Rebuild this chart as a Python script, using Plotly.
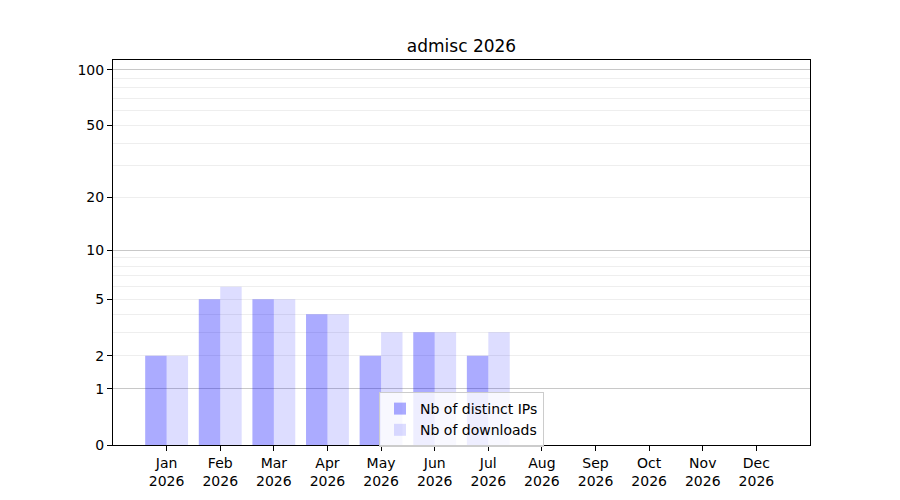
import numpy as np
import plotly.graph_objects as go

months = ["Jan", "Feb", "Mar", "Apr", "May", "Jun", "Jul", "Aug", "Sep", "Oct", "Nov", "Dec"]
year = "2026"
distinct_ips = [2, 5, 5, 4, 2, 3, 2, 0, 0, 0, 0, 0]
downloads = [2, 6, 5, 4, 3, 3, 3, 0, 0, 0, 0, 0]
tick_values = [0, 1, 2, 5, 10, 20, 50, 100]
major_grid = [1, 10, 100]
minor_grid = [2, 3, 4, 5, 6, 7, 8, 9, 20, 30, 40, 50, 60, 70, 80, 90]


def fwd(v):
    return np.log10(1 + np.asarray(v, dtype=float))


x = list(range(len(months)))
ticktext_x = [f"{m}<br>{year}" for m in months]

fig = go.Figure()
fig.add_trace(go.Bar(x=x, y=fwd(distinct_ips), name="Nb of distinct IPs",
                     marker=dict(color="rgba(0,0,255,0.33)", line=dict(width=0))))
fig.add_trace(go.Bar(x=x, y=fwd(downloads), name="Nb of downloads",
                     marker=dict(color="rgba(0,0,255,0.135)", line=dict(width=0))))
# invisible trace to bind secondary axis for major gridlines
fig.add_trace(go.Scatter(x=[x[0]], y=[0], yaxis="y2", mode="markers",
                         marker=dict(opacity=0), showlegend=False, hoverinfo="skip"))

yrange = [0, float(fwd(113))]

fig.update_layout(
    width=900, height=500,
    margin=dict(l=105, r=98, t=52, b=63),
    paper_bgcolor="white", plot_bgcolor="white",
    font=dict(family="DejaVu Sans", size=14, color="black"),
    title=dict(text="admisc 2026", x=(461.5 - 8) / 900, xanchor="center",
               y=1 - 38 / 500, yanchor="middle", font=dict(size=17)),
    barmode="group", bargap=0.2, bargroupgap=0,
    showlegend=True,
    legend=dict(x=(379 - 113) / 697, y=(445 - 392) / 385, xanchor="left", yanchor="top",
                bgcolor="rgba(255,255,255,0.8)", bordercolor="#cccccc", borderwidth=1,
                font=dict(size=14), tracegroupgap=0),
    xaxis=dict(range=[-1, 12], tickvals=x, ticktext=ticktext_x, showgrid=False,
               showline=True, linecolor="black", linewidth=1, mirror=True,
               ticks="outside", ticklen=5, tickcolor="black", zeroline=False),
    yaxis=dict(range=yrange, tickvals=list(fwd(tick_values)),
               ticktext=[str(v) for v in tick_values], showgrid=False,
               showline=True, linecolor="black", linewidth=1, mirror=True,
               ticks="outside", ticklen=5, tickcolor="black", zeroline=False,
               minor=dict(tickvals=list(fwd(minor_grid)), showgrid=True,
                          gridcolor="#eeeeee", gridwidth=1, ticks="")),
    yaxis2=dict(range=yrange, overlaying="y", side="left", tickvals=list(fwd(major_grid)),
                showticklabels=False, ticks="", showgrid=True, gridcolor="#c8c8c8",
                gridwidth=1, zeroline=False, showline=False),
)

fig.write_html("out.html")
